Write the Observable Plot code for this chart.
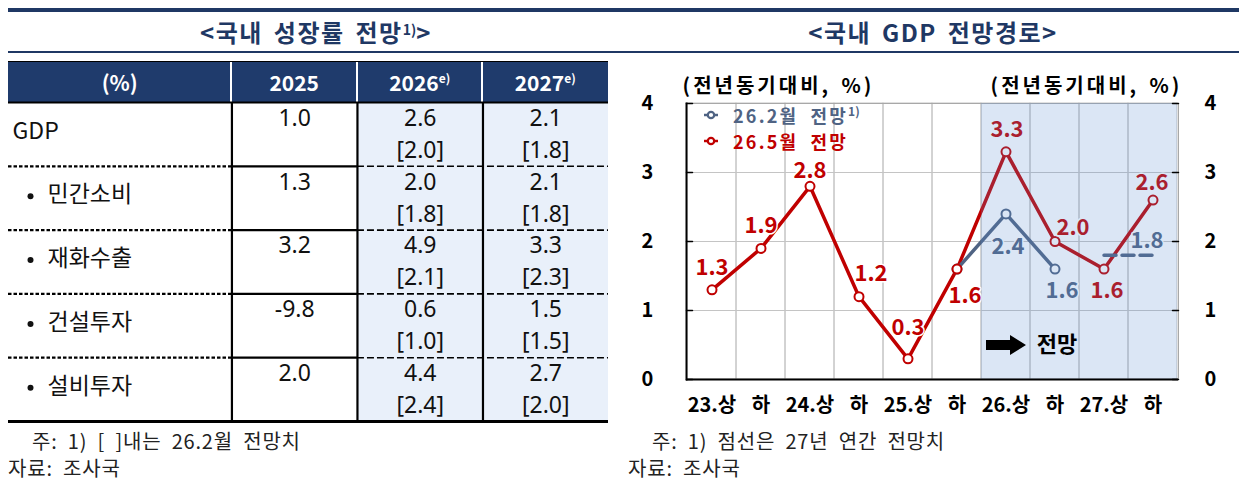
<!DOCTYPE html>
<html><head><meta charset="utf-8">
<script src="https://cdn.jsdelivr.net/npm/d3@7"></script>
<script src="https://cdn.jsdelivr.net/npm/@observablehq/plot@0.6"></script>
<style>
body{margin:0;background:#fff;font-family:"Noto Sans CJK KR","Noto Sans",sans-serif;}
#page{position:relative;width:1239px;height:483px;overflow:hidden;background:#fff;}
.abs{position:absolute;}
.title{position:absolute;top:13px;height:38px;line-height:38px;font-size:24px;font-weight:700;color:#1f3864;text-align:center;white-space:nowrap;letter-spacing:1.5px;word-spacing:4px;}
.title sup{font-size:14px;vertical-align:top;position:relative;top:-3px;letter-spacing:0;}
#hdr{position:absolute;left:8px;top:61px;width:600px;height:41px;background:#1f3b6c;border-top:1px solid #000;box-sizing:border-box;}
.hc{position:absolute;top:0;height:40px;line-height:40px;color:#fff;font-weight:700;font-size:21px;text-align:center;}
.hc sup{font-size:12px;vertical-align:top;position:relative;top:-4px;}
.hd{position:absolute;top:0;width:2px;height:40px;background:#fff;}
.note{position:absolute;font-size:20px;color:#222;white-space:nowrap;line-height:22px;word-spacing:5px;letter-spacing:0.8px;}
.lg{position:absolute;font-size:18px;font-weight:700;white-space:nowrap;line-height:20px;word-spacing:6px;letter-spacing:2.2px;}
.lg sup{font-size:12px;vertical-align:top;position:relative;top:-4px;letter-spacing:0;}
.lg svg{position:absolute;left:-30px;top:3px;}
</style>
</head><body>
<div id="page">
  <div class="abs" style="left:8px;top:8px;width:1231px;height:4px;background:#1f3864"></div>
  <div class="abs" style="left:8px;top:51px;width:1231px;height:1.5px;background:#1f3864"></div>
  <div class="title" style="left:8px;width:616px;">&lt;국내 성장률 전망<sup>1)</sup>&gt;</div>
  <div class="title" style="left:633px;width:600px;">&lt;국내 GDP 전망경로&gt;</div>
  <div id="hdr"></div>
  <div id="table" class="abs" style="left:8px;top:100px;"></div>
  <div id="chart" class="abs" style="left:620px;top:60px;"></div>
  <div id="legend"></div>
  <div class="note" style="left:32px;top:430px;">주: 1) [ ]내는 26.2월 전망치</div>
  <div class="note" style="left:8px;top:457px;">자료: 조사국</div>
  <div class="note" style="left:652px;top:430px;">주: 1) 점선은 27년 연간 전망치</div>
  <div class="note" style="left:628px;top:457px;">자료: 조사국</div>
</div>
<script>
// ---------- Data: table ----------
const tableRows = ["GDP","민간소비","재화수출","건설투자","설비투자"];
const tableYears = ["2025","2026","2027"];
const tableYearNotes = ["","e)","e)"];
const g2025 = [1.0, 1.3, 3.2, -9.8, 2.0];
const g2026 = [2.6, 2.0, 4.9, 0.6, 4.4];
const g2027 = [2.1, 2.1, 3.3, 1.5, 2.7];
const g2026Feb = [2.0, 1.8, 2.1, 1.0, 2.4];
const g2027Feb = [1.8, 1.8, 2.3, 1.5, 2.0];

// ---------- Data: chart ----------
const periods = ["23.상","23.하","24.상","24.하","25.상","25.하","26.상","26.하","27.상","27.하"];
const xTickLabels = ["23.상","하","24.상","하","25.상","하","26.상","하","27.상","하"];
const forecastPeriods = ["26.상","26.하","27.상","27.하"];
const may2026 = [1.3, 1.9, 2.8, 1.2, 0.3, 1.6, 3.3, 2.0, 1.6, 2.6];
const feb2026Periods = ["25.하","26.상","26.하"];
const feb2026 = [1.6, 2.4, 1.6];
const feb2026AnnualPeriods = ["27.상","27.하"];
const feb2026Annual2027 = 1.8;
const yTicks = [0, 1, 2, 3, 4];

const RED = "#c00000", GRAY = "#4f6383";
const KFONT = '"Noto Sans CJK KR","Noto Sans",sans-serif';
const NFONT = '"Liberation Sans Narrow","Arial Narrow","Noto Sans",sans-serif';

// ---------- Table header (HTML) ----------
(function(){
  const hdr = document.getElementById("hdr");
  const colW = 600 / 4.78; // label column = 1.78 units
  const lx = 1.78 * colW;
  let h = `<div class="hc" style="left:0;width:${lx}px">(%)</div>`;
  tableYears.forEach((y, i) => {
    const left = lx + i * colW;
    h += `<div class="hd" style="left:${left - 1}px"></div>`;
    h += `<div class="hc" style="left:${left}px;width:${colW}px">${y}${tableYearNotes[i] ? `<sup>${tableYearNotes[i]}</sup>` : ""}</div>`;
  });
  hdr.innerHTML = h;
})();

// ---------- Table body (Plot) ----------
const cur = [g2025, g2026, g2027];
const prev = [null, g2026Feb, g2027Feb];
const cells = [];
tableYears.forEach((yr, c) => tableRows.forEach((r, ri) => {
  cells.push({c, ri, v: cur[c][ri], p: prev[c] ? prev[c][ri] : null});
}));
const rowIdx = tableRows.map((r, i) => ({r, i}));
const bounds = [1, 2, 3, 4];

const table = Plot.plot({
  width: 600, height: 324,
  marginLeft: 0, marginRight: 0, marginTop: 2, marginBottom: 3,
  x: {type: "linear", domain: [-1.78, 3], axis: null},
  y: {type: "linear", domain: [0, 5], reverse: true, axis: null},
  style: {background: "transparent", overflow: "visible"},
  marks: [
    Plot.rect(tableYears.map((y, c) => ({c})).filter(d => prev[d.c]), {x1: d => d.c, x2: d => d.c + 1, y1: 0, y2: 5, fill: "#e9f0fa"}),
    Plot.ruleY(bounds, {x1: -1.78, x2: 0, stroke: "#000", strokeWidth: 2.2, strokeDasharray: "3.5,2"}),
    Plot.ruleY(bounds, {x1: 0, x2: 1, stroke: "#000", strokeWidth: 2.2}),
    Plot.ruleY(bounds, {x1: 1, x2: 3, stroke: "#000", strokeWidth: 1.6, strokeDasharray: "7,3"}),
    Plot.ruleX([0, 1, 2], {y1: 0, y2: 5, stroke: "#000", strokeWidth: 2.2}),
    Plot.ruleY([0], {x1: -1.78, x2: 3, stroke: "#000", strokeWidth: 2.2}),
    Plot.ruleY([5], {x1: -1.78, x2: 3, stroke: "#000", strokeWidth: 3}),
    Plot.text(rowIdx.filter(d => d.i === 0), {y: d => d.i + 0.45, text: "r", frameAnchor: "left", dx: 4, textAnchor: "start", fontFamily: KFONT, fontSize: 23, fill: "#111"}),
    Plot.dot(rowIdx.filter(d => d.i > 0), {y: d => d.i + 0.47, frameAnchor: "left", dx: 22, r: 3, fill: "#111", stroke: "none"}),
    Plot.text(rowIdx.filter(d => d.i > 0), {y: d => d.i + 0.45, text: "r", frameAnchor: "left", dx: 39, textAnchor: "start", fontFamily: KFONT, fontSize: 23, fill: "#111"}),
    Plot.text(cells, {x: d => d.c + 0.5, y: d => d.ri + 0.25, text: d => d.v.toFixed(1), fontFamily: NFONT, fontSize: 23, fill: "#111"}),
    Plot.text(cells.filter(d => d.p != null), {x: d => d.c + 0.5, y: d => d.ri + 0.75, text: d => `[${d.p.toFixed(1)}]`, fontFamily: NFONT, fontSize: 23, fill: "#111"})
  ]
});
document.getElementById("table").appendChild(table);

// ---------- Chart (Plot) ----------
const redData = periods.map((p, i) => ({p, v: may2026[i]}));
const grayData = feb2026Periods.map((p, i) => ({p, v: feb2026[i]}));
const annualData = feb2026AnnualPeriods.map(p => ({p, v: feb2026Annual2027}));

const redOffsets = {"23.상":[0,-22],"23.하":[0,-22],"24.상":[0,-15],"24.하":[12,-23],"25.상":[0,-31],"25.하":[8,27],"26.상":[1,-22],"26.하":[18,-14],"27.상":[3,22],"27.하":[-1,-17]};
const grayOffsets = {"26.상":[2,33],"26.하":[7,22]};
const labelStyle = {fontFamily: KFONT, fontSize: 22, fontWeight: "bold", stroke: "white", strokeWidth: 3, paintOrder: "stroke"};

const labelMarks = [
  ...redData.map(d => Plot.text([d], {x: "p", y: "v", text: e => e.v.toFixed(1), dx: redOffsets[d.p][0], dy: redOffsets[d.p][1], fill: RED, ...labelStyle})),
  ...grayData.filter(d => grayOffsets[d.p]).map(d => Plot.text([d], {x: "p", y: "v", text: e => e.v.toFixed(1), dx: grayOffsets[d.p][0], dy: grayOffsets[d.p][1], fill: GRAY, ...labelStyle})),
  Plot.text(annualData.slice(-1), {x: "p", y: "v", text: e => e.v.toFixed(1), dx: -6, dy: -14, fill: GRAY, ...labelStyle})
];

const tickShape = {draw(ctx, l) { ctx.moveTo(0, 0); ctx.lineTo(0, -l); }};
const blockArrow = {draw(ctx, l) {
  const h = 16, w = 5, hw = 10;
  ctx.moveTo(-w, 0); ctx.lineTo(-w, -(l - h)); ctx.lineTo(-hw, -(l - h)); ctx.lineTo(0, -l);
  ctx.lineTo(hw, -(l - h)); ctx.lineTo(w, -(l - h)); ctx.lineTo(w, 0); ctx.closePath();
}};
const AXIS_TITLE = "(전년동기대비, %)";
const axisTitleStyle = {textAnchor: "middle", lineAnchor: "middle", fontFamily: KFONT, fontSize: 20, fontWeight: "bold", fill: "#000"};

const chart = Plot.plot({
  width: 619, height: 360,
  marginLeft: 66, marginRight: 61, marginTop: 43, marginBottom: 41,
  style: {background: "transparent", overflow: "visible", fontFamily: KFONT},
  x: {type: "band", domain: periods, padding: 0},
  y: {domain: [0, 4]},
  marks: [
    Plot.barY(periods, {x: d => d, y1: 0, y2: 4, fill: "none", stroke: "#c4c4c4", strokeWidth: 1}),
    Plot.ruleY([1, 2, 3], {stroke: "#c4c4c4", strokeWidth: 1}),
    Plot.frame({stroke: "#a8a8a8", strokeWidth: 1}),
    Plot.line(redData, {x: "p", y: "v", stroke: RED, strokeWidth: 3.5, strokeLinejoin: "round"}),
    Plot.line(grayData, {x: "p", y: "v", stroke: GRAY, strokeWidth: 3.5, strokeLinejoin: "round"}),
    Plot.line(annualData, {x: "p", y: "v", stroke: GRAY, strokeWidth: 3.5, strokeDasharray: "12,6"}),
    Plot.dot(grayData, {x: "p", y: "v", r: 4.5, fill: "white", stroke: GRAY, strokeWidth: 2}),
    Plot.dot(redData, {x: "p", y: "v", r: 4.5, fill: "white", stroke: RED, strokeWidth: 2}),
    ...labelMarks,
    Plot.barY(forecastPeriods, {x: d => d, y1: 0, y2: 4, fill: "#5b8fd0", fillOpacity: 0.22}),
    Plot.ruleY([0], {stroke: "#000", strokeWidth: 2.2}),
    Plot.frame({anchor: "left", stroke: "#000", strokeWidth: 2}),
    Plot.vector(yTicks, {y: d => d, frameAnchor: "left", rotate: 90, length: 6, anchor: "start", shape: tickShape, stroke: "#000", strokeWidth: 1.5}),
    Plot.vector(yTicks, {y: d => d, frameAnchor: "right", rotate: -90, length: 6, anchor: "start", shape: tickShape, stroke: "#000", strokeWidth: 1.5}),
    Plot.vector([{p: "26.상", v: 0.5}], {x: "p", y: "v", rotate: 90, length: 40, anchor: "middle", shape: blockArrow, fill: "#000", stroke: "none"}),
    Plot.text([{p: "26.하", v: 0.5, t: "전망"}], {x: "p", y: "v", text: "t", dx: 2, fontFamily: KFONT, fontSize: 22, fontWeight: "bold", fill: "#000"}),
    Plot.axisY(yTicks, {anchor: "left", tickSize: 0, tickPadding: 39, textAnchor: "middle", tickFormat: d => String(d), fontSize: 20, fontWeight: "bold", fill: "#000", label: null}),
    Plot.axisY(yTicks, {anchor: "right", tickSize: 0, tickPadding: 32, textAnchor: "middle", tickFormat: d => String(d), fontSize: 20, fontWeight: "bold", fill: "#000", label: null}),
    Plot.axisX({tickSize: 0, tickPadding: 18, tickFormat: d => xTickLabels[periods.indexOf(d)], fontSize: 20, fontWeight: "bold", fill: "#000", label: null}),
    Plot.text([AXIS_TITLE], {frameAnchor: "top-left", dx: 92, dy: -17, ...axisTitleStyle}),
    Plot.text([AXIS_TITLE], {frameAnchor: "top-right", dx: -92, dy: -17, ...axisTitleStyle})
  ]
});
// widen the axis-title lettering to match the reference spacing
d3.select(chart).selectAll("text").filter(function() { return this.textContent === AXIS_TITLE; })
  .style("letter-spacing", "3px").style("word-spacing", "3px");
document.getElementById("chart").appendChild(chart);

// ---------- Legend (HTML) ----------
(function(){
  const items = [
    {label: "26.2월 전망", sup: "1)", color: GRAY, top: 105},
    {label: "26.5월 전망", sup: "", color: RED, top: 131}
  ];
  const lg = document.getElementById("legend");
  lg.innerHTML = items.map(it => `<div class="lg" style="left:733px;top:${it.top}px;color:${it.color}">` +
    `<svg width="22" height="14"><line x1="1" y1="7" x2="15" y2="7" stroke="${it.color}" stroke-width="2.5"/><circle cx="8" cy="7" r="3.2" fill="white" stroke="${it.color}" stroke-width="2.2"/></svg>` +
    `${it.label}${it.sup ? `<sup>${it.sup}</sup>` : ""}</div>`).join("");
})();
</script>
</body></html>
